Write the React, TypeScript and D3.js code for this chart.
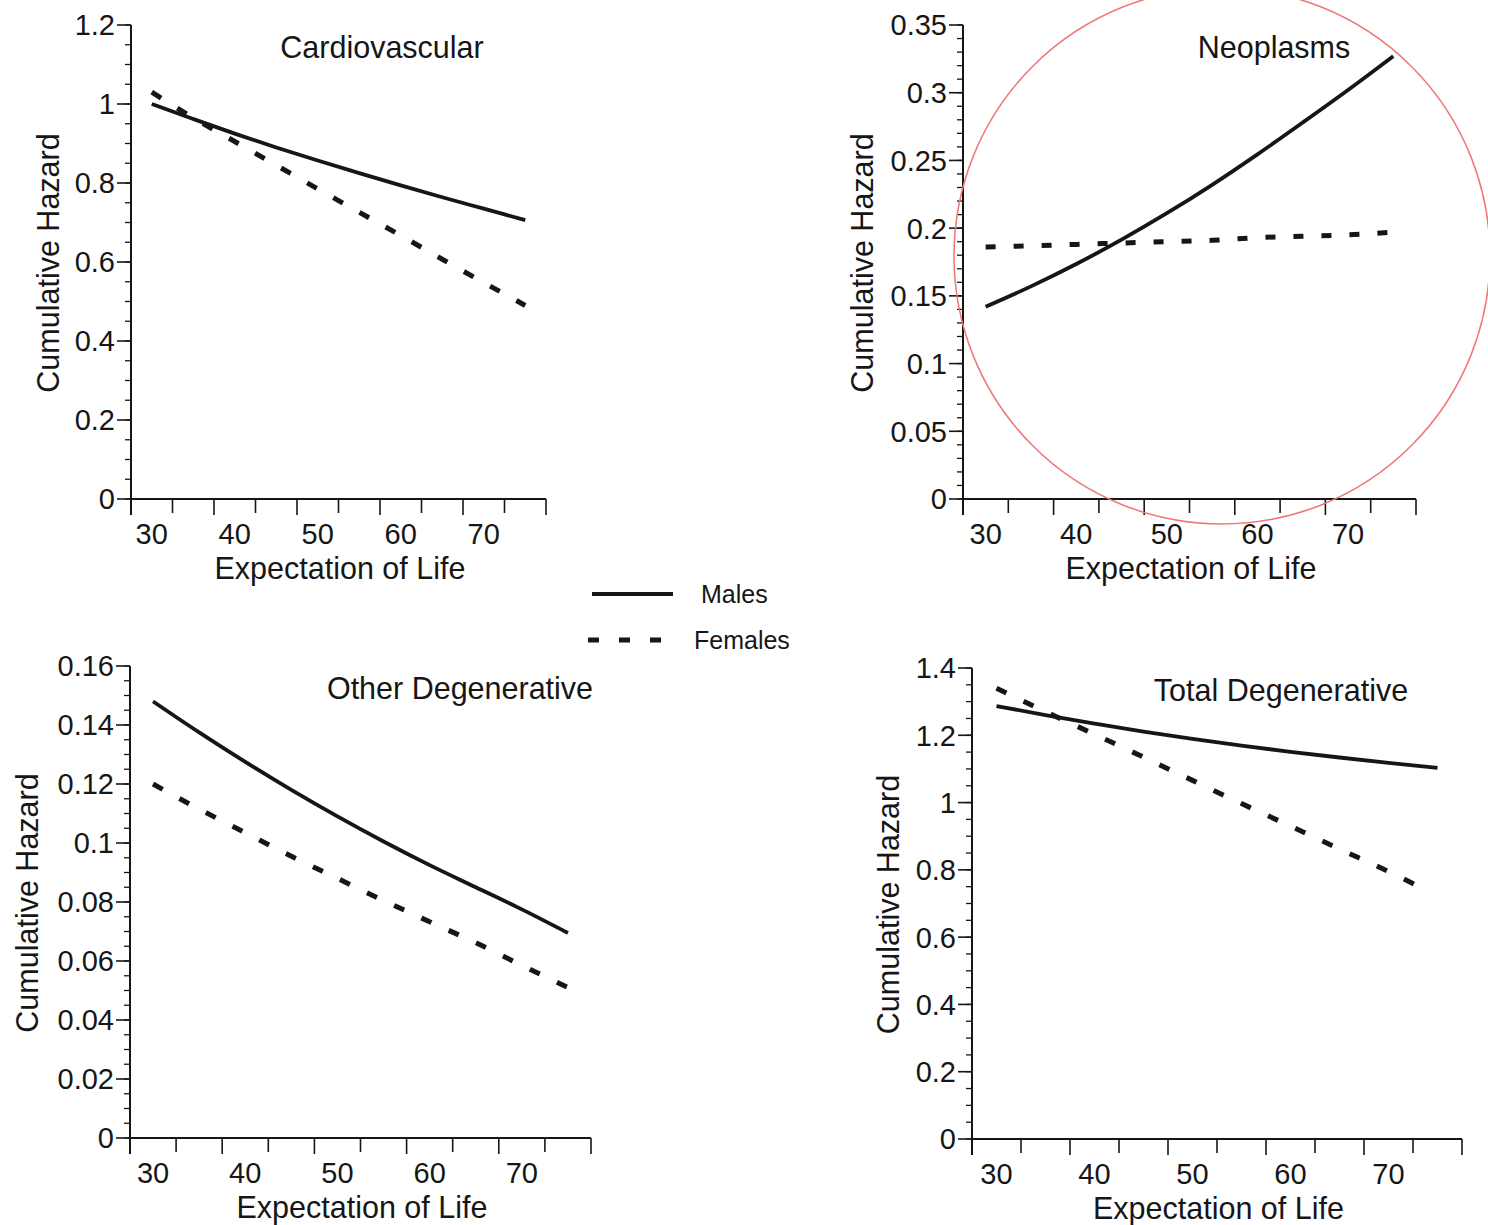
import React from 'react';
import * as d3 from 'd3';

// ---- data ----
const years = [30, 35, 40, 45, 50, 55, 60, 65, 70, 75];
const yearsTotalFemales = [30, 35, 40, 45, 50, 55, 60, 65, 70, 73];

const cardioMales = [1.0, 0.962, 0.925, 0.89, 0.857, 0.825, 0.794, 0.764, 0.735, 0.706];
const cardioFemales = [1.03, 0.965, 0.905, 0.845, 0.785, 0.726, 0.667, 0.607, 0.548, 0.49];

const neoMales = [0.142, 0.157, 0.1735, 0.1915, 0.211, 0.232, 0.2545, 0.278, 0.302, 0.327];
const neoFemales = [0.186, 0.187, 0.188, 0.189, 0.19, 0.191, 0.193, 0.194, 0.195, 0.197];

const otherMales = [0.148, 0.1375, 0.1275, 0.118, 0.109, 0.1005, 0.0925, 0.085, 0.0775, 0.0695];
const otherFemales = [0.12, 0.1115, 0.1035, 0.0955, 0.088, 0.0805, 0.0733, 0.0662, 0.0585, 0.051];

const totalMales = [1.287, 1.26, 1.235, 1.211, 1.189, 1.169, 1.151, 1.134, 1.118, 1.103];
const totalFemales = [1.34, 1.27, 1.203, 1.135, 1.066, 0.997, 0.93, 0.862, 0.795, 0.752];

const xTickLabels = [30, 40, 50, 60, 70];
const xTickMarks = [27.5, 32.5, 37.5, 42.5, 47.5, 52.5, 57.5, 62.5, 67.5, 72.5, 77.5];
const xDomain = [27.5, 77.5];

const cardioYLabels = ['0', '0.2', '0.4', '0.6', '0.8', '1', '1.2'];
const neoYLabels = ['0', '0.05', '0.1', '0.15', '0.2', '0.25', '0.3', '0.35'];
const otherYLabels = ['0', '0.02', '0.04', '0.06', '0.08', '0.1', '0.12', '0.14', '0.16'];
const totalYLabels = ['0', '0.2', '0.4', '0.6', '0.8', '1', '1.2', '1.4'];

const FONT = '"Liberation Sans", Arial, Helvetica, sans-serif';
const INK = '#161616';
const TICK_FS = 29;
const TITLE_FS = 30.5;

type Panel = {
  title: string;
  males: number[];
  females: number[];
  femaleYears: number[];
  yLabels: string[];
  yMax: number;
  minorStep: number;
  l: number; t: number; r: number; b: number;
  titleX: number;
  yTitleOff: number;
  dash: string;
};

const panels: Panel[] = [
  { title: 'Cardiovascular', males: cardioMales, females: cardioFemales, femaleYears: years,
    yLabels: cardioYLabels, yMax: 1.2, minorStep: 0.05, l: 131, t: 25, r: 546, b: 499,
    titleX: 382, yTitleOff: 83, dash: '11,19' },
  { title: 'Neoplasms', males: neoMales, females: neoFemales, femaleYears: years,
    yLabels: neoYLabels, yMax: 0.35, minorStep: 0.01, l: 963, t: 25, r: 1416, b: 499,
    titleX: 1274, yTitleOff: 101, dash: '10,18' },
  { title: 'Other Degenerative', males: otherMales, females: otherFemales, femaleYears: years,
    yLabels: otherYLabels, yMax: 0.16, minorStep: 0.005, l: 130, t: 666, r: 591, b: 1138,
    titleX: 460, yTitleOff: 103, dash: '11,19' },
  { title: 'Total Degenerative', males: totalMales, females: totalFemales, femaleYears: yearsTotalFemales,
    yLabels: totalYLabels, yMax: 1.4, minorStep: 0.05, l: 972, t: 668, r: 1462, b: 1139,
    titleX: 1281, yTitleOff: 84, dash: '11,19' },
];

function PanelView({ p }: { p: Panel }) {
  const x = d3.scaleLinear().domain(xDomain).range([p.l, p.r]);
  const y = d3.scaleLinear().domain([0, p.yMax]).range([p.b, p.t]);
  const nMinor = Math.round(p.yMax / p.minorStep);
  const minor = d3.range(nMinor + 1).map((i) => i * p.minorStep);
  const line = d3.line<[number, number]>().x((d) => x(d[0])).y((d) => y(d[1])).curve(d3.curveMonotoneX);
  const mPath = line(years.map((yr, i) => [yr, p.males[i]]) as [number, number][]) || '';
  const fPath = line(p.femaleYears.map((yr, i) => [yr, p.females[i]]) as [number, number][]) || '';
  const midY = (p.t + p.b) / 2;
  return (
    <g>
      {/* y axis */}
      <line x1={p.l} x2={p.l} y1={p.t} y2={p.b + 16} stroke={INK} strokeWidth={2} />
      {minor.map((v, i) => (
        <line key={'mn' + i} x1={p.l - 6} x2={p.l} y1={y(v)} y2={y(v)} stroke={INK} strokeWidth={1.3} />
      ))}
      {p.yLabels.map((s) => (
        <g key={'yl' + s}>
          <line x1={p.l - 14} x2={p.l} y1={y(+s)} y2={y(+s)} stroke={INK} strokeWidth={1.6} />
          <text x={p.l - 16} y={y(+s)} dy="0.36em" textAnchor="end" fontSize={TICK_FS} fontFamily={FONT} fill={INK}>{s}</text>
        </g>
      ))}
      {/* x axis */}
      <line x1={p.l} x2={p.r} y1={p.b} y2={p.b} stroke={INK} strokeWidth={2.2} />
      {xTickMarks.map((v, i) => (
        <line key={'xt' + i} x1={x(v)} x2={x(v)} y1={p.b} y2={p.b + (i % 2 === 0 ? 16 : 14)} stroke={INK} strokeWidth={1.6} />
      ))}
      {xTickLabels.map((v) => (
        <text key={'xl' + v} x={x(v)} y={p.b + 45} textAnchor="middle" fontSize={TICK_FS} fontFamily={FONT} fill={INK}>{v}</text>
      ))}
      <text x={(x(30) + x(75)) / 2 + 1.5} y={p.b + 80} textAnchor="middle" fontSize={TITLE_FS} fontFamily={FONT} fill={INK}>Expectation of Life</text>
      <text transform={`translate(${p.l - p.yTitleOff},${midY + 1}) rotate(-90)`} dy="0.36em" textAnchor="middle" fontSize={TITLE_FS} fontFamily={FONT} fill={INK}>Cumulative Hazard</text>
      <text x={p.titleX} y={p.t + 33} textAnchor="middle" fontSize={TITLE_FS} fontFamily={FONT} fill={INK}>{p.title}</text>
      {/* series */}
      <path d={mPath} fill="none" stroke={INK} strokeWidth={3.8} />
      <path d={fPath} fill="none" stroke={INK} strokeWidth={5} strokeDasharray={p.dash} />
    </g>
  );
}

export default function App() {
  return (
    <svg width={1488} height={1225} style={{ position: 'absolute', left: 0, top: 0, background: '#fff' }}>
      <rect x={0} y={0} width={1488} height={1225} fill="#fff" />
      {panels.map((p) => <PanelView key={p.title} p={p} />)}
      {/* legend */}
      <line x1={592} x2={673} y1={594} y2={594} stroke={INK} strokeWidth={4} />
      <text x={701} y={594} dy="0.36em" fontSize={25} fontFamily={FONT} fill={INK}>Males</text>
      <line x1={588} x2={662} y1={640} y2={640} stroke={INK} strokeWidth={5} strokeDasharray="11,20" />
      <text x={694} y={640} dy="0.36em" fontSize={25} fontFamily={FONT} fill={INK}>Females</text>
      {/* annotation circle */}
      <circle cx={1222} cy={256} r={268} fill="none" stroke="#f07575" strokeWidth={1.5} />
    </svg>
  );
}
